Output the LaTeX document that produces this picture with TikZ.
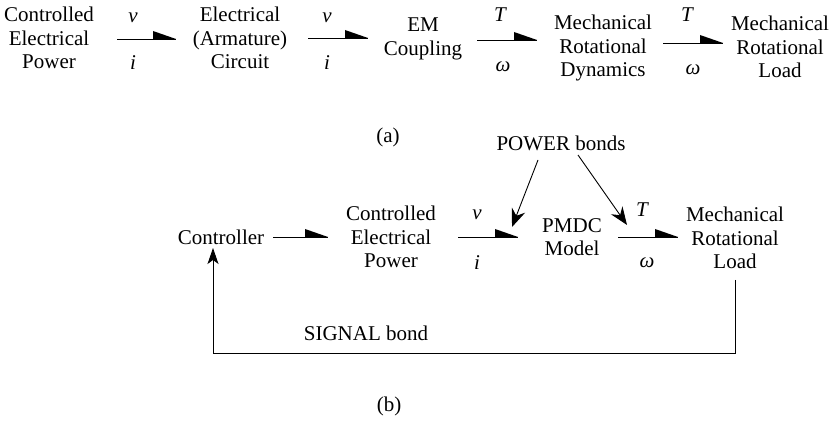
\documentclass[tikz,border=0pt]{standalone}
\usepackage{fontspec}
\setmainfont{Liberation Serif}
\usetikzlibrary{arrows.meta}
\tikzset{
  blk/.style={align=center, inner sep=3pt, font=\fontsize{21}{23.5}\selectfont},
  lbl/.style={inner sep=0pt, font=\fontsize{21}{23.5}\selectfont},
  sym/.style={inner sep=0pt, font=\fontsize{21}{23.5}\selectfont\itshape},
  bondline/.style={line width=0.9pt},
  sigline/.style={line width=0.9pt},
  pointer/.style={line width=0.9pt, -{Stealth[length=18pt,width=14pt,inset=6pt]}},
}
\newcommand{\halfhead}[1]{\fill (#1) -- ++(-23,0) -- ++(0,-8) -- cycle;}
\begin{document}
\begin{tikzpicture}[x=1pt,y=-1pt]
\useasboundingbox (0,0) rectangle (833,422);
% ---------- (a) ----------
\node[blk] (cepa) at (49,38) {Controlled\\Electrical\\Power};
\node[blk] (eac) at (240,38) {Electrical\\(Armature)\\Circuit};
\node[blk] (em) at (423,39) {EM\\Coupling};
\node[blk] (mrd) at (603,48) {Mechanical\\Rotational\\Dynamics};
\node[blk] (mrla) at (780,47) {Mechanical\\Rotational\\Load};
\coordinate (a1s) at (117,39); \coordinate (a1e) at (176,39);
\coordinate (a2s) at (308,38); \coordinate (a2e) at (368,38);
\coordinate (a3s) at (477,40); \coordinate (a3e) at (537,40);
\coordinate (a4s) at (663,43); \coordinate (a4e) at (723,43);
\draw[bondline] (a1s) -- (a1e); \halfhead{a1e}
\draw[bondline] (a2s) -- (a2e); \halfhead{a2e}
\draw[bondline] (a3s) -- (a3e); \halfhead{a3e}
\draw[bondline] (a4s) -- (a4e); \halfhead{a4e}
\node[sym] (va1) at (133,18) {v};
\node[sym] (ia1) at (133,63) {i};
\node[sym] (va2) at (327,18) {v};
\node[sym] (ia2) at (327,63) {i};
\node[sym] (ta3) at (500,15) {T};
\node[sym] (wa3) at (503,67) {ω};
\node[sym] (ta4) at (687,15) {T};
\node[sym] (wa4) at (693,70) {ω};
\node[lbl] (capa) at (388,137) {(a)};
% ---------- (b) ----------
\node[lbl] (power) at (561,143) {POWER bonds};
\node[blk] (ctrl) at (221,237) {Controller};
\node[blk] (cepb) at (391,237) {Controlled\\Electrical\\Power};
\node[blk] (pmdc) at (572,237) {PMDC\\Model};
\node[blk] (mrlb) at (735,238) {Mechanical\\Rotational\\Load};
\coordinate (b1s) at (273,237); \coordinate (b1e) at (328,237);
\coordinate (b2s) at (458,237); \coordinate (b2e) at (518,237);
\coordinate (b3s) at (618,237); \coordinate (b3e) at (678,237);
\draw[bondline] (b1s) -- (b1e); \halfhead{b1e}
\draw[bondline] (b2s) -- (b2e); \halfhead{b2e}
\draw[bondline] (b3s) -- (b3e); \halfhead{b3e}
\node[sym] (vb2) at (477,215) {v};
\node[sym] (ib2) at (477,263) {i};
\node[sym] (tb3) at (642,210) {T};
\node[sym] (wb3) at (647,263) {ω};
\coordinate (p1s) at (538,160); \coordinate (p1e) at (512,227);
\coordinate (p2s) at (578,155); \coordinate (p2e) at (627,225);
\draw[pointer] (p1s) -- (p1e);
\draw[pointer] (p2s) -- (p2e);
\coordinate (sigs) at (735,280);
\coordinate (sige) at (213,248);
\draw[sigline, -{Stealth[length=16pt,width=11pt,inset=4pt]}] (sigs) -- (735,353) -- (213,353) -- (sige);
\node[lbl] (sig) at (366,333) {SIGNAL bond};
\node[lbl] (capb) at (389,406) {(b)};
\end{tikzpicture}
\end{document}
